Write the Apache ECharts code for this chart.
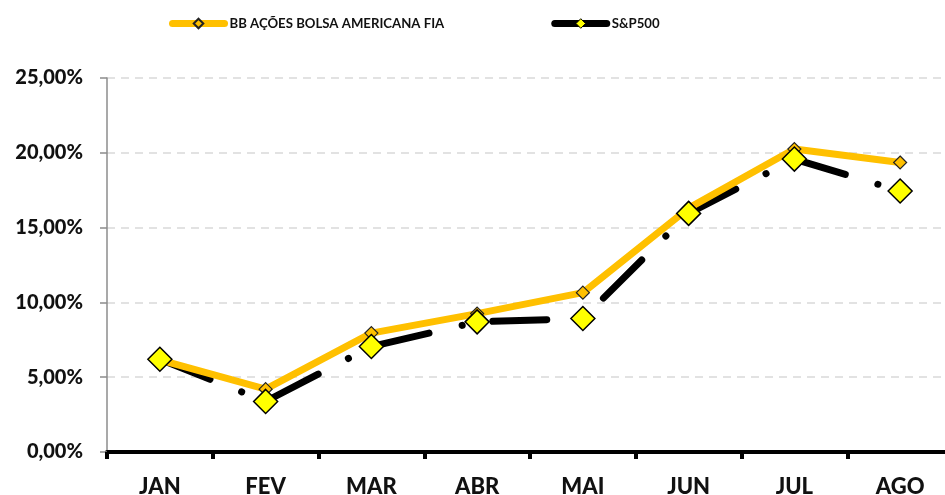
<!DOCTYPE html>
<html><head><meta charset="utf-8">
<script src="https://cdn.jsdelivr.net/npm/echarts@6/dist/echarts.min.js"></script>
<style>html,body{margin:0;padding:0;background:#fff}#c{width:945px;height:495px}</style>
</head><body><div id="c"></div>
<script>
const categories = ['JAN','FEV','MAR','ABR','MAI','JUN','JUL','AGO'];
const bbValues = [6.15, 4.2, 7.95, 9.25, 10.65, 16.3, 20.25, 19.35];
const spValues = [6.2, 3.38, 7.05, 8.7, 8.92, 15.95, 19.58, 17.45];
const yTicks = [0, 5, 10, 15, 20, 25];
const nameBB = 'BB AÇÕES BOLSA AMERICANA FIA';
const nameSP = 'S&P500';
const FONT = 'Lato';

const chart = echarts.init(document.getElementById('c'), null, {renderer:'canvas'});
chart.setOption({
  animation: false,
  backgroundColor: '#fff',
  textStyle: {fontFamily: FONT},
  legend: {
    top: 12, left: 164, itemGap: 107, itemWidth: 52, itemHeight: 12,
    textStyle: {fontFamily: FONT, fontWeight: 'bold', fontSize: 13.2, color: '#111'},
    data: [
      {name: nameBB, lineStyle: {width: 7, opacity: 1, type: 'solid', cap: 'round'}},
      {name: nameSP, itemStyle: {color: '#FFFF00', borderColor: '#000', borderWidth: 1},
       lineStyle: {width: 7, opacity: 1, type: 'solid', color: '#000', cap: 'round'}}
    ]
  },
  grid: {left: 107, width: 846, top: 78, bottom: 43, containLabel: false, outerBoundsMode: 'none'},
  xAxis: {
    type: 'category', data: categories, boundaryGap: true,
    axisLine: {lineStyle: {color: '#000', width: 4}},
    axisTick: {show: true, length: 7, lineStyle: {color: '#000', width: 4}},
    axisLabel: {fontFamily: FONT, fontWeight: 900, fontSize: 22, color: '#111', margin: 24}
  },
  yAxis: {
    type: 'value', min: yTicks[0], max: yTicks[yTicks.length-1], interval: 5,
    axisLine: {show: true, lineStyle: {color: '#8c8c8c', width: 1.5}},
    axisTick: {show: true, length: 7, lineStyle: {color: '#8c8c8c', width: 1.5}},
    axisLabel: {fontFamily: FONT, fontWeight: 900, fontSize: 20, color: '#111', margin: 24,
      formatter: v => v.toFixed(2).replace('.', ',') + '%'},
    splitLine: {show: true, lineStyle: {color: '#d9d9d9', width: 1.5, type: [8, 6]}}
  },
  series: [
    {
      name: nameSP, type: 'line', data: spValues, z: 5,
      symbol: 'diamond', symbolSize: 24, showSymbol: true,
      itemStyle: {color: '#FFFF00', borderColor: '#000', borderWidth: 1.5},
      lineStyle: {opacity: 0, width: 0}
    },
    {
      name: nameBB, type: 'line', data: bbValues, z: 4,
      symbol: 'diamond', symbolSize: 13,
      itemStyle: {color: '#FFC000', borderColor: '#222', borderWidth: 1.2},
      lineStyle: {color: '#FFC000', width: 7, cap: 'round', join: 'round'}
    },
    {
      name: 'S&P500 linha', type: 'line', data: spValues, z: 3,
      showSymbol: false, symbol: 'none',
      lineStyle: {color: '#000', width: 7, type: [54, 34, 0.1, 31], cap: 'round'}
    }
  ]
});
</script></body></html>
